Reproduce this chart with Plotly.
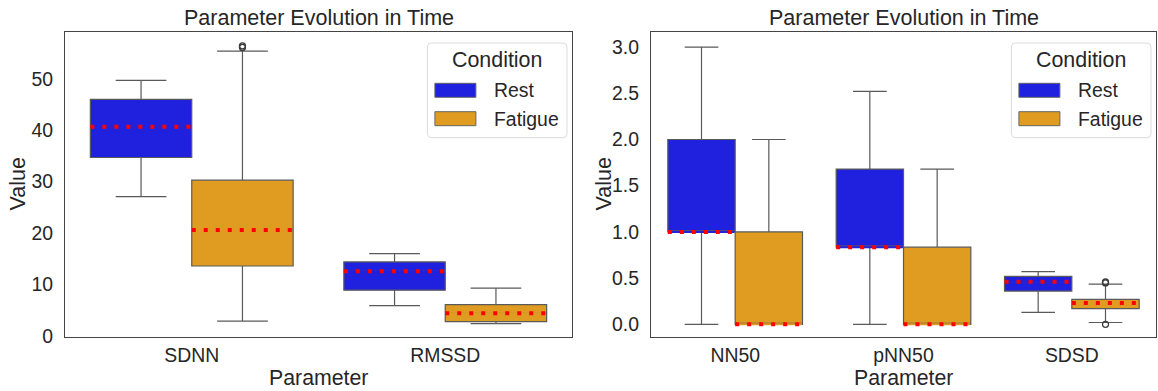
import plotly.graph_objects as go

# ---------------- data ----------------
conditions = ["Rest", "Fatigue"]

left_params = ["SDNN", "RMSSD"]
left_rest_q1 = [34.7, 8.9]
left_rest_med = [40.7, 12.6]
left_rest_q3 = [46.0, 14.4]
left_rest_lo = [27.1, 5.9]
left_rest_hi = [49.7, 16.0]
left_fat_q1 = [13.6, 2.8]
left_fat_med = [20.6, 4.4]
left_fat_q3 = [30.3, 6.1]
left_fat_lo = [2.9, 2.4]
left_fat_hi = [55.4, 9.3]
left_fat_outliers = [[56.1, 56.4], []]
left_rest_outliers = [[], []]

right_params = ["NN50", "pNN50", "SDSD"]
right_rest_q1 = [1.0, 0.835, 0.36]
right_rest_med = [1.0, 0.835, 0.46]
right_rest_q3 = [2.0, 1.68, 0.52]
right_rest_lo = [0.0, 0.0, 0.13]
right_rest_hi = [3.0, 2.52, 0.57]
right_fat_q1 = [0.0, 0.0, 0.17]
right_fat_med = [0.0, 0.0, 0.23]
right_fat_q3 = [1.0, 0.835, 0.27]
right_fat_lo = [0.0, 0.0, 0.02]
right_fat_hi = [2.0, 1.68, 0.436]
right_fat_outliers = [[], [], [0.448, 0.458, 0.0]]
right_rest_outliers = [[], [], []]

left_yticks = [0, 10, 20, 30, 40, 50]
right_yticks = [0.0, 0.5, 1.0, 1.5, 2.0, 2.5, 3.0]

# ---------------- style ----------------
W, H = 1158, 391
COL = {"Rest": "#2020df", "Fatigue": "#df9c20"}
LINE = "#5a5a5a"
TXT = "#262626"
FONT = "Liberation Sans, Arial, sans-serif"
HUE_W = 0.4


def px(x):
    return x / W


def py(y):
    return 1 - y / H


fig = go.Figure()


def add_panel(xa, ya, params, stats, outliers):
    for h, cond in enumerate(conditions):
        q1, med, q3, lo, hi = stats[cond]
        off = (h - 0.5) * HUE_W
        xs = [i + off for i in range(len(params))]
        fig.add_trace(go.Box(
            x=xs, q1=q1, median=med, q3=q3, lowerfence=lo, upperfence=hi,
            width=HUE_W, whiskerwidth=0.5, fillcolor=COL[cond],
            line=dict(color=LINE, width=1.2), boxpoints=False,
            xaxis=xa, yaxis=ya, showlegend=False, hoverinfo="skip"))
        for i, x in enumerate(xs):
            # cover the default median line with the fill colour, then red dotted median
            fig.add_trace(go.Scatter(
                x=[x - HUE_W / 2 + 0.004, x + HUE_W / 2 - 0.004], y=[med[i], med[i]],
                mode="lines", line=dict(color=COL[cond], width=2),
                xaxis=xa, yaxis=ya, showlegend=False, hoverinfo="skip"))
            fig.add_trace(go.Scatter(
                x=[x - HUE_W / 2, x + HUE_W / 2], y=[med[i], med[i]],
                mode="lines", line=dict(color="red", width=4, dash="4px,8px"),
                xaxis=xa, yaxis=ya, showlegend=False, hoverinfo="skip"))
            if outliers[cond][i]:
                fig.add_trace(go.Scatter(
                    x=[x] * len(outliers[cond][i]), y=outliers[cond][i], mode="markers",
                    marker=dict(symbol="circle-open", size=6, color="#3c3c3c",
                                line=dict(width=1.3)),
                    xaxis=xa, yaxis=ya, showlegend=False, hoverinfo="skip"))


add_panel("x", "y", left_params,
          {"Rest": (left_rest_q1, left_rest_med, left_rest_q3, left_rest_lo, left_rest_hi),
           "Fatigue": (left_fat_q1, left_fat_med, left_fat_q3, left_fat_lo, left_fat_hi)},
          {"Rest": left_rest_outliers, "Fatigue": left_fat_outliers})
add_panel("x2", "y2", right_params,
          {"Rest": (right_rest_q1, right_rest_med, right_rest_q3, right_rest_lo, right_rest_hi),
           "Fatigue": (right_fat_q1, right_fat_med, right_fat_q3, right_fat_lo, right_fat_hi)},
          {"Rest": right_rest_outliers, "Fatigue": right_fat_outliers})

# axes geometry (pixels)
L = dict(x0=65, x1=572)
R = dict(x0=651, x1=1156)
Y0, Y1 = 32, 337

axis_common = dict(showline=True, mirror=True, linecolor="#444", linewidth=1.3,
                   showgrid=False, zeroline=False, ticks="outside",
                   tickcolor="rgba(0,0,0,0)", tickfont=dict(size=19.4, color=TXT, family=FONT))

fig.update_layout(
    width=W, height=H, margin=dict(l=0, r=0, t=0, b=0),
    paper_bgcolor="white", plot_bgcolor="white", template="none",
    boxmode="overlay", showlegend=False,
    font=dict(family=FONT, color=TXT),
    xaxis=dict(domain=[px(L["x0"]), px(L["x1"])], range=[-0.5, len(left_params) - 0.5],
               tickvals=list(range(len(left_params))), ticktext=left_params, anchor="y",
               ticklen=1, **axis_common),
    yaxis=dict(domain=[py(Y1), py(Y0)], range=[-0.2, 59.1], tickvals=left_yticks,
               anchor="x", ticklen=7, **axis_common),
    xaxis2=dict(domain=[px(R["x0"]), px(R["x1"])], range=[-0.5, len(right_params) - 0.5],
                tickvals=list(range(len(right_params))), ticktext=right_params, anchor="y2",
                ticklen=1, **axis_common),
    yaxis2=dict(domain=[py(Y1), py(Y0)], range=[-0.137, 3.163], tickvals=right_yticks,
                tickformat=".1f", anchor="x2", ticklen=7, **axis_common),
)

ann = []
shapes = []
for ax in (L, R):
    cx = (ax["x0"] + ax["x1"]) / 2
    ann.append(dict(text="Parameter Evolution in Time", x=px(cx), y=py(18), xref="paper",
                    yref="paper", showarrow=False, xanchor="center", yanchor="middle",
                    font=dict(size=21.5, color=TXT, family=FONT)))
    ann.append(dict(text="Parameter", x=px(cx), y=py(378), xref="paper", yref="paper",
                    showarrow=False, xanchor="center", yanchor="middle",
                    font=dict(size=21.3, color=TXT, family=FONT)))
    ann.append(dict(text="Value", x=px(ax["x0"] - 48), y=py((Y0 + Y1) / 2), xref="paper",
                    yref="paper", showarrow=False, xanchor="center", yanchor="middle",
                    textangle=-90, font=dict(size=21.5, color=TXT, family=FONT)))
    # custom legend (matplotlib-like)
    lx1 = ax["x1"] - 5
    lx0 = lx1 - 139.6
    ly0, ly1 = 43, 137.7
    r = 4
    path = (f"M {px(lx0 + r)} {py(ly0)} L {px(lx1 - r)} {py(ly0)} "
            f"Q {px(lx1)} {py(ly0)} {px(lx1)} {py(ly0 + r)} "
            f"L {px(lx1)} {py(ly1 - r)} Q {px(lx1)} {py(ly1)} {px(lx1 - r)} {py(ly1)} "
            f"L {px(lx0 + r)} {py(ly1)} Q {px(lx0)} {py(ly1)} {px(lx0)} {py(ly1 - r)} "
            f"L {px(lx0)} {py(ly0 + r)} Q {px(lx0)} {py(ly0)} {px(lx0 + r)} {py(ly0)} Z")
    shapes.append(dict(type="path", path=path, xref="paper", yref="paper",
                       fillcolor="rgba(255,255,255,0.85)", line=dict(color="#dcdcdc", width=1)))
    ann.append(dict(text="Condition", x=px(lx0 + 69.3), y=py(59.5), xref="paper", yref="paper",
                    showarrow=False, xanchor="center", yanchor="middle",
                    font=dict(size=21.4, color=TXT, family=FONT)))
    for k, cond in enumerate(conditions):
        gy0 = 83.3 + k * 28.4
        gy1 = gy0 + 14
        shapes.append(dict(type="rect", xref="paper", yref="paper",
                           x0=px(lx0 + 7.5), x1=px(lx0 + 48.5), y0=py(gy1), y1=py(gy0),
                           fillcolor=COL[cond], line=dict(color="#666", width=1)))
        ann.append(dict(text=cond, x=px(lx0 + 64.5), y=py((gy0 + gy1) / 2), xref="paper",
                        yref="paper", showarrow=False, xanchor="left", yanchor="middle",
                        font=dict(size=19.4, color=TXT, family=FONT)))

fig.update_layout(annotations=ann, shapes=shapes)
fig.write_html("out.html", config={"displayModeBar": False},
               post_script="document.body.style.margin='0';document.body.style.overflow='hidden';")
